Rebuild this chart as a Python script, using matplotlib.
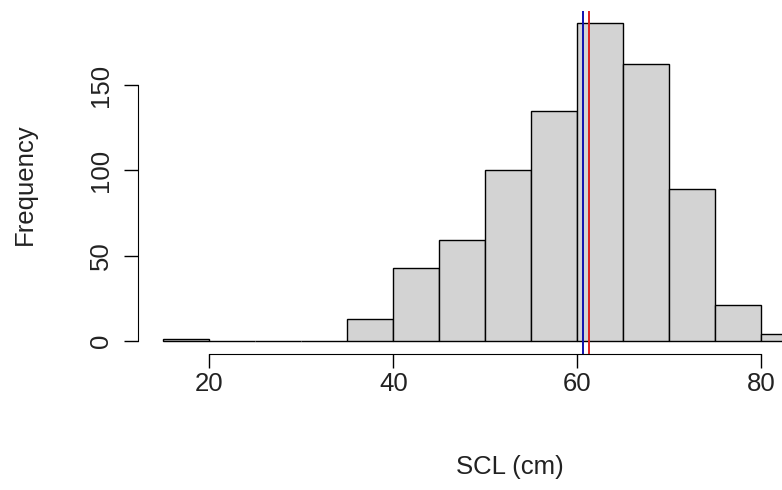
import matplotlib
matplotlib.use('Agg')
import matplotlib.pyplot as plt

plt.rcParams['font.family'] = ['Liberation Sans', 'DejaVu Sans']

# histogram bins (5 cm wide) and counts
bin_edges = [15, 20, 25, 30, 35, 40, 45, 50, 55, 60, 65, 70, 75, 80, 85]
counts = [1, 0, 0, 0, 13, 43, 59, 100, 135, 186, 162, 89, 21, 4]
mean_scl = 60.6
median_scl = 61.3

x_ticks = [20, 40, 60, 80]
y_ticks = [0, 50, 100, 150]

fig = plt.figure(figsize=(7.82, 4.9), dpi=100)
ax = fig.add_axes([0.176, 0.278, 0.889, 0.700])

lefts = bin_edges[:-1]
widths = [b - a for a, b in zip(bin_edges[:-1], bin_edges[1:])]
ax.bar(lefts, counts, width=widths, align='edge', color='#D3D3D3',
       edgecolor='black', linewidth=1.0)

ax.axvline(mean_scl, color='#1010B0', linewidth=1.4)
ax.axvline(median_scl, color='#E02020', linewidth=1.4)

ax.set_xlim(12.2, 87.8)
ax.set_ylim(-7.44, 193.44)

for s in ['top', 'right']:
    ax.spines[s].set_visible(False)
ax.spines['left'].set_bounds(0, 150)
ax.spines['bottom'].set_bounds(20, 80)

ax.set_xticks(x_ticks)
ax.set_yticks(y_ticks)
ax.set_yticklabels([str(v) for v in y_ticks], rotation=90, va='center')
ax.tick_params(axis='both', length=10, width=1, labelsize=18.5, pad=3,
               colors='black', labelcolor='#222222')
ax.tick_params(axis='y', pad=8)

# axis titles placed in figure pixels to match the original layout
fig.text(510 / 782, 1 - 467 / 490, 'SCL (cm)', fontsize=18.5,
         color='#222222', ha='center', va='center')
fig.text(25 / 782, 1 - 184 / 490, 'Frequency', fontsize=18.5,
         color='#222222', ha='center', va='center', rotation=90)

fig.savefig('out.png', dpi=100)
